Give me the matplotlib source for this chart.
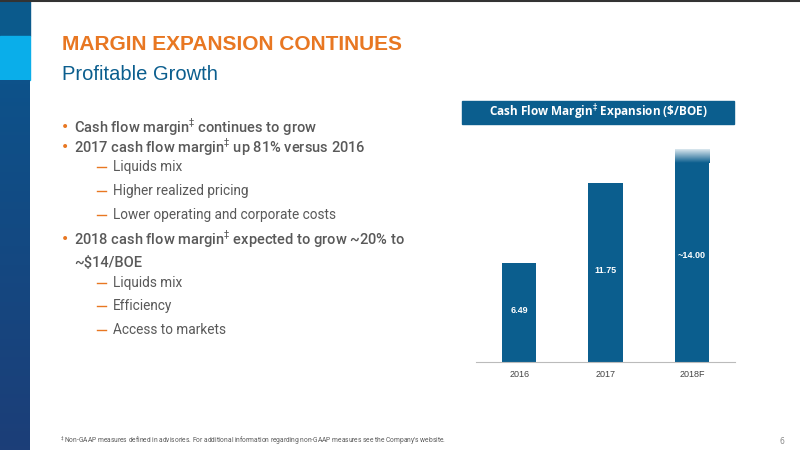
import numpy as np
import matplotlib.pyplot as plt
from matplotlib.patches import Rectangle

years = ["2016", "2017", "2018F"]
margin = [6.49, 11.75, 14.00]
value_labels = ["6.49", "11.75", "~14.00"]
label_pos = [3.4, 6.05, 7.0]

bullets = [
    (0, "Cash flow margin$^{\\ddag}$ continues to grow"),
    (0, "2017 cash flow margin$^{\\ddag}$ up 81% versus 2016"),
    (1, "Liquids mix"),
    (1, "Higher realized pricing"),
    (1, "Lower operating and corporate costs"),
    (0, "2018 cash flow margin$^{\\ddag}$ expected to grow ~20% to\n~\\$14/BOE"),
    (1, "Liquids mix"),
    (1, "Efficiency"),
    (1, "Access to markets"),
]
bullet_y = [127, 147, 167, 191, 215, 249, 283, 306, 330]

BLUE = "#0b5e8e"
ORANGE = "#e87722"
GREY = "#595959"
W, H = 800, 450
FONT = ["Roboto", "Liberation Sans", "DejaVu Sans"]

fig = plt.figure(figsize=(8, 4.5), dpi=100)
bg = fig.add_axes([0, 0, 1, 1])
bg.set_xlim(0, W)
bg.set_ylim(H, 0)
bg.axis("off")

# left stripe
bg.add_patch(Rectangle((0, 0), 30, 36, color="#0b5a8c"))
bg.add_patch(Rectangle((0, 36), 30, 44, color="#0aaeea"))
grad = np.linspace(0, 1, 100).reshape(-1, 1)
c0 = np.array([0x0d, 0x52, 0x8a]) / 255
c1 = np.array([0x1c, 0x3e, 0x78]) / 255
img = c0 + (c1 - c0) * grad[..., None]
bg.imshow(np.repeat(img, 2, axis=1), extent=(0, 30, H, 80), aspect="auto", zorder=1)
bg.plot([0, W], [0.5, 0.5], color="#333333", lw=1.5)

bg.text(62, 45, "MARGIN EXPANSION CONTINUES", color=ORANGE, fontsize=15,
        fontweight="bold", family=["Liberation Sans", "DejaVu Sans"], va="center")
bg.text(62, 75, "Profitable Growth", color=BLUE, fontsize=14.5,
        family=["Liberation Sans", "DejaVu Sans"], va="center")

for (lvl, txt), y in zip(bullets, bullet_y):
    if lvl == 0:
        bg.text(61, y if "\n" not in txt else y - 10, "•", color=ORANGE, fontsize=10, va="center")
        bg.text(74, y, txt, color=GREY, fontsize=10.5, family=FONT, fontweight="medium",
                va="center", linespacing=1.5)
    else:
        bg.plot([97, 106], [y, y], color=ORANGE, lw=1)
        bg.text(113, y, txt, color=GREY, fontsize=9.8, family=FONT, va="center")

# chart header
bg.add_patch(Rectangle((462, 101), 272, 23, color=BLUE))
bg.text(598, 112.5, "Cash Flow Margin$^{\\ddag}$ Expansion (\\$/BOE)", color="white",
        fontsize=8.5, fontweight="bold", ha="center", va="center",
        family=["Open Sans", "DejaVu Sans"])

bg.text(60, 441, "$^{\\ddag}$ Non-GAAP measures defined in advisories. For additional information regarding non-GAAP measures see the Company's website.",
        color=GREY, fontsize=4.8, va="center", family=FONT)
bg.text(780, 441, "6", color="#888888", fontsize=5.5, va="center")

# bar chart
ax = fig.add_axes([476 / W, 88 / H, 259 / W, 230 / H])
ax.set_xlim(-0.5, 2.5)
ax.set_ylim(0, 230 / 15.2)
x = np.arange(len(years))
ax.bar(x[:2], margin[:2], width=0.4, color=BLUE)
fade = 0.9
ax.bar(x[2], margin[2] - fade, width=0.4, color=BLUE)
g = np.linspace(0, 1, 50).reshape(-1, 1)
cb = np.array([0x0b, 0x5e, 0x8e]) / 255
top = np.ones(3) + (cb - 1) * (0.15 + 0.85 * g[..., None])
ax.imshow(top, extent=(x[2] - 0.2, x[2] + 0.2, margin[2] - fade, margin[2]),
          aspect="auto", zorder=2)
for xi, lab, yp in zip(x, value_labels, label_pos):
    ax.text(xi, yp, lab, color="white", fontsize=6.5, fontweight="bold",
            ha="center", va="center", family=["Liberation Sans", "DejaVu Sans"])
ax.set_xticks(x)
ax.set_xticklabels(years, fontsize=6.5, color="#444444", family=["Liberation Sans", "DejaVu Sans"])
ax.tick_params(length=0, pad=6)
ax.set_yticks([])
for s in ["top", "right", "left"]:
    ax.spines[s].set_visible(False)
ax.spines["bottom"].set_color("#bbbbbb")
ax.set_facecolor("none")

fig.savefig("out.png", dpi=100)
